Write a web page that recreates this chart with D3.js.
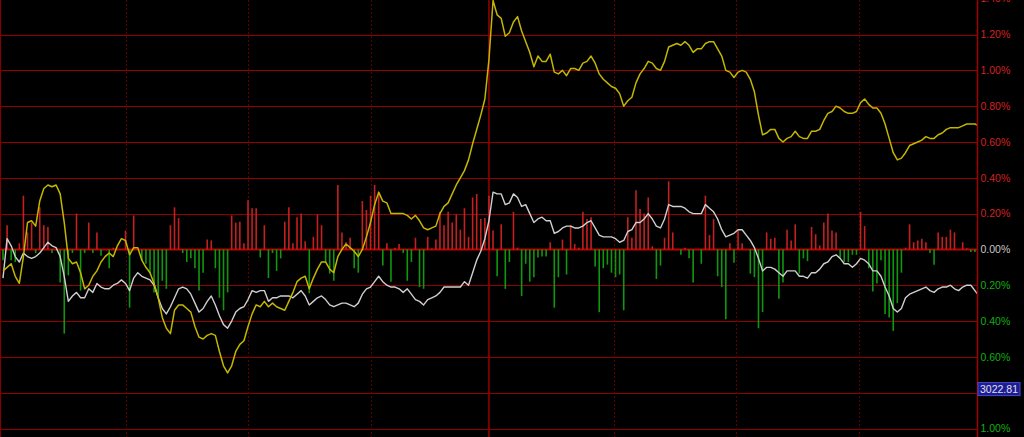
<!DOCTYPE html>
<html><head><meta charset="utf-8">
<script src="https://cdn.jsdelivr.net/npm/d3@7/dist/d3.min.js"></script>
<style>html,body{margin:0;padding:0;background:#000;overflow:hidden}svg{display:block}</style>
</head><body><svg id="c" width="1024" height="437"></svg>
<script>
// Stock % change (yellow), one value per minute
const stockPct = [-0.12,-0.10,-0.08,-0.15,-0.19,-0.04,0.15,0.16,0.13,0.27,0.34,0.36,0.35,0.36,0.31,0.15,-0.05,-0.08,-0.07,-0.13,
-0.22,-0.20,-0.15,-0.12,-0.07,-0.04,-0.02,-0.04,0.02,0.06,0.05,-0.03,0.01,0.01,-0.06,-0.10,-0.13,-0.19,-0.27,-0.38,
-0.44,-0.47,-0.34,-0.31,-0.31,-0.33,-0.35,-0.43,-0.49,-0.50,-0.48,-0.47,-0.48,-0.57,-0.65,-0.69,-0.65,-0.57,-0.53,-0.51,
-0.43,-0.36,-0.31,-0.32,-0.29,-0.32,-0.30,-0.32,-0.33,-0.34,-0.29,-0.24,-0.18,-0.16,-0.15,-0.22,-0.16,-0.11,-0.07,-0.07,
-0.11,-0.13,-0.04,0.00,0.03,0.01,-0.01,-0.04,0.00,0.07,0.15,0.25,0.32,0.27,0.26,0.20,0.20,0.20,0.20,0.19,
0.17,0.19,0.16,0.12,0.11,0.12,0.13,0.20,0.24,0.26,0.31,0.36,0.40,0.44,0.50,0.59,0.67,0.75,0.84,1.06,
1.39,1.31,1.29,1.19,1.21,1.27,1.30,1.22,1.16,1.10,1.02,1.08,1.05,1.05,1.09,0.99,0.98,1.00,0.97,1.01,
1.01,1.00,1.04,1.05,1.08,1.04,0.98,0.95,0.93,0.91,0.90,0.87,0.80,0.83,0.85,0.93,0.98,1.01,1.05,1.04,
1.01,1.00,1.05,1.13,1.14,1.15,1.14,1.16,1.14,1.10,1.12,1.12,1.15,1.16,1.16,1.12,1.08,1.00,0.99,0.96,
0.99,1.00,0.99,0.95,0.88,0.75,0.64,0.65,0.67,0.67,0.62,0.60,0.62,0.63,0.66,0.63,0.62,0.62,0.66,0.66,
0.67,0.72,0.76,0.77,0.80,0.79,0.77,0.76,0.76,0.77,0.82,0.84,0.81,0.79,0.79,0.76,0.70,0.62,0.54,0.50,
0.51,0.54,0.58,0.59,0.60,0.61,0.63,0.62,0.62,0.64,0.65,0.67,0.68,0.68,0.68,0.69,0.70,0.70,0.70,0.69];

// Index % change (white)
const indexPct = [-0.16,0.06,0.02,-0.04,-0.07,-0.02,-0.04,-0.05,-0.04,-0.02,0.01,0.04,0.02,0.01,-0.04,-0.15,-0.29,-0.26,-0.24,-0.27,
-0.27,-0.22,-0.24,-0.19,-0.21,-0.22,-0.22,-0.20,-0.19,-0.17,-0.19,-0.23,-0.16,-0.13,-0.15,-0.16,-0.17,-0.20,-0.27,-0.33,
-0.36,-0.32,-0.27,-0.22,-0.21,-0.22,-0.25,-0.30,-0.35,-0.33,-0.29,-0.26,-0.31,-0.37,-0.42,-0.44,-0.40,-0.35,-0.33,-0.32,
-0.28,-0.23,-0.24,-0.23,-0.23,-0.29,-0.27,-0.27,-0.26,-0.26,-0.26,-0.27,-0.25,-0.23,-0.26,-0.31,-0.29,-0.27,-0.26,-0.28,
-0.31,-0.32,-0.31,-0.30,-0.30,-0.31,-0.32,-0.30,-0.25,-0.22,-0.21,-0.18,-0.15,-0.18,-0.20,-0.21,-0.21,-0.22,-0.24,-0.22,
-0.25,-0.28,-0.29,-0.31,-0.28,-0.27,-0.26,-0.24,-0.21,-0.21,-0.21,-0.21,-0.21,-0.18,-0.20,-0.13,-0.06,-0.01,0.06,0.16,
0.32,0.31,0.31,0.25,0.26,0.31,0.29,0.24,0.25,0.20,0.15,0.17,0.18,0.16,0.16,0.09,0.10,0.12,0.13,0.13,
0.12,0.12,0.13,0.15,0.16,0.12,0.08,0.07,0.07,0.07,0.06,0.04,0.05,0.10,0.11,0.15,0.15,0.17,0.20,0.17,
0.13,0.12,0.17,0.25,0.24,0.24,0.24,0.23,0.21,0.20,0.20,0.20,0.25,0.23,0.21,0.17,0.11,0.07,0.08,0.09,
0.11,0.11,0.08,0.05,0.01,-0.05,-0.12,-0.10,-0.10,-0.11,-0.13,-0.15,-0.12,-0.12,-0.12,-0.15,-0.15,-0.16,-0.13,-0.13,
-0.11,-0.08,-0.07,-0.04,-0.03,-0.05,-0.08,-0.08,-0.10,-0.08,-0.05,-0.06,-0.08,-0.12,-0.12,-0.15,-0.21,-0.26,-0.33,-0.35,
-0.33,-0.27,-0.25,-0.24,-0.23,-0.22,-0.21,-0.23,-0.24,-0.22,-0.21,-0.21,-0.20,-0.22,-0.23,-0.21,-0.20,-0.20,-0.23,-0.26];

// Strength bars (red up / green down), same % scale
const strength = [-0.06,0.135,-0.06,-0.07,0.034,0.30,0.095,0.15,-0.02,0.235,0.135,0.125,-0.02,0,-0.185,-0.47,-0.145,-0.02,0.20,-0.23,
-0.02,0.15,-0.02,0.095,-0.035,0,-0.105,0.01,0,0,0.105,-0.325,0.19,0,-0.06,-0.08,-0.135,-0.24,-0.27,-0.175,
-0.22,0.135,0.235,0.175,-0.02,-0.07,-0.05,-0.105,-0.23,-0.13,0.055,0.05,-0.105,-0.27,-0.34,-0.24,0.19,0.15,0.155,0.034,
0.275,0.23,0.23,-0.045,0.135,-0.16,-0.02,-0.12,-0.05,0.155,0.235,0.034,0.18,0.20,0.045,-0.245,0.07,0.195,0.135,-0.07,
-0.135,-0.175,0.36,0.095,0.04,0.065,-0.105,-0.13,0.27,0.22,0.30,0.36,0.31,-0.09,0.034,-0.18,0.01,0.03,-0.02,-0.175,
-0.07,0.065,-0.21,-0.22,0.07,0.006,0.055,0.21,0.135,0.21,0.15,0.195,0.11,0.23,0.07,0.29,0.31,0.17,0.175,0.30,
0.105,-0.15,0.14,-0.22,-0.07,0.21,0.01,-0.26,-0.08,-0.18,-0.155,-0.045,-0.04,-0.04,0.04,-0.325,-0.155,0.055,-0.14,0.135,
0.03,0.01,0.21,0.17,0.18,-0.095,-0.35,-0.105,-0.085,-0.13,-0.155,-0.14,-0.34,0.18,0.065,0.33,0.225,0.20,0.29,0.017,
-0.165,-0.09,0.065,0.38,0.095,0,-0.03,0.01,-0.05,-0.185,0,-0.08,0.30,0.08,0.17,-0.15,-0.21,-0.39,0.034,-0.075,
0.105,0.034,0,-0.135,-0.155,-0.44,-0.35,0.095,0.06,0.065,-0.275,-0.185,0.11,0.05,0.14,-0.135,-0.05,-0.065,0.125,0.085,
0.022,0.15,0.20,0.105,0.095,-0.045,-0.07,-0.07,-0.03,-0.03,0.21,0.13,-0.105,-0.235,-0.19,-0.06,-0.36,-0.38,-0.455,-0.30,
-0.13,0.01,0.14,0.04,0.05,0.06,0.04,-0.02,-0.085,0.095,0.07,0.07,0.11,0.095,0,0.04,0.006,-0.015,-0.015,-0.055];

// Axis ticks (percent) and labels
const yTicks = [1.4,1.2,1.0,0.8,0.6,0.4,0.2,0,-0.2,-0.4,-0.6,-0.8,-1.0];
const yTickLabels = ["1.40%","1.20%","1.00%","0.80%","0.60%","0.40%","0.20%","0.00%","0.20%","0.40%","0.60%","0.80%","1.00%"];
const vGridIdx = [30,60,90,149.5,179.5,209.5];
const middayIdx = [119];
const priceTag = {value:-0.78, text:"3022.81"};

const svg = d3.select("#c");
const W = 1024, H = 437, plotR = 977;
svg.append("rect").attr("width",W).attr("height",H).attr("fill","#000");

const x = d3.scaleLinear().domain([0,239]).range([3,979]);
const y = d3.scaleLinear().domain([-1.0,1.4]).range([428.5,-1.3]);

svg.append("defs").append("clipPath").attr("id","clip")
  .append("rect").attr("x",0).attr("y",0).attr("width",plotR).attr("height",H);

const g = svg.append("g");
// horizontal grid
g.selectAll("line.h").data(yTicks.filter(d=>d!==0)).enter().append("line")
  .attr("x1",0).attr("x2",plotR).attr("y1",d=>Math.round(y(d))+0.5).attr("y2",d=>Math.round(y(d))+0.5)
  .attr("stroke","#940000").attr("stroke-width",1.2);
// vertical dotted grid
g.selectAll("line.v").data(vGridIdx).enter().append("line")
  .attr("x1",d=>Math.round(x(d))+0.5).attr("x2",d=>Math.round(x(d))+0.5).attr("y1",0).attr("y2",H)
  .attr("stroke","#5e0000").attr("stroke-width",1).attr("stroke-dasharray","2,2");
g.selectAll("line.m").data(middayIdx).enter().append("line")
  .attr("x1",d=>x(d)).attr("x2",d=>x(d)).attr("y1",0).attr("y2",H)
  .attr("stroke","#9a0000").attr("stroke-width",1.5);
// left border
g.append("line").attr("x1",0.5).attr("x2",0.5).attr("y1",0).attr("y2",H).attr("stroke","#8a0000");

// bars
const gp = svg.append("g").attr("clip-path","url(#clip)");
gp.selectAll("line.bar").data(strength.map((v,i)=>({v,i})).filter(d=>d.v!==0)).enter().append("line")
  .attr("x1",d=>x(d.i)).attr("x2",d=>x(d.i))
  .attr("y1",y(0)).attr("y2",d=>y(d.v))
  .attr("stroke",d=>d.v>0?"#c42020":"#0f980f").attr("stroke-width",1.6);

// zero line
g.append("line").attr("x1",0).attr("x2",plotR).attr("y1",y(0)).attr("y2",y(0))
  .attr("stroke","#c00000").attr("stroke-width",2);

const line = d3.line().x((d,i)=>x(i)).y(d=>y(d));
gp.append("path").datum(indexPct).attr("d",line).attr("fill","none")
  .attr("stroke","#cfcfcf").attr("stroke-width",1.4).attr("stroke-linejoin","round");
gp.append("path").datum(stockPct).attr("d",line).attr("fill","none")
  .attr("stroke","#c4b600").attr("stroke-width",1.5).attr("stroke-linejoin","round");

// right axis
svg.append("line").attr("x1",plotR+0.5).attr("x2",plotR+0.5).attr("y1",0).attr("y2",H)
  .attr("stroke","#a00000").attr("stroke-width",1.5);

// labels
svg.selectAll("text.lab").data(yTicks.map((d,i)=>({d,t:yTickLabels[i]})).filter(o=>o.d!==-0.8)).enter().append("text")
  .attr("x",980.5).attr("y",o=>y(o.d)).attr("dy","0.36em")
  .attr("font-family","'Liberation Sans', Arial, sans-serif").attr("font-size",10.5)
  .attr("fill",o=>o.d>0?"#d42020":(o.d<0?"#10b010":"#c8c8c8"))
  .text(o=>o.t);

// price tag
const ty = y(priceTag.value);
svg.append("rect").attr("x",978).attr("y",ty-6.5).attr("width",42).attr("height",13)
  .attr("fill","#1c1c96").attr("stroke","#4a4ad0").attr("stroke-width",1);
svg.append("text").attr("x",999).attr("y",ty).attr("dy","0.36em").attr("text-anchor","middle")
  .attr("font-family","'Liberation Sans', Arial, sans-serif").attr("font-size",10.5)
  .attr("fill","#e0e0e0").text(priceTag.text);
</script></body></html>
